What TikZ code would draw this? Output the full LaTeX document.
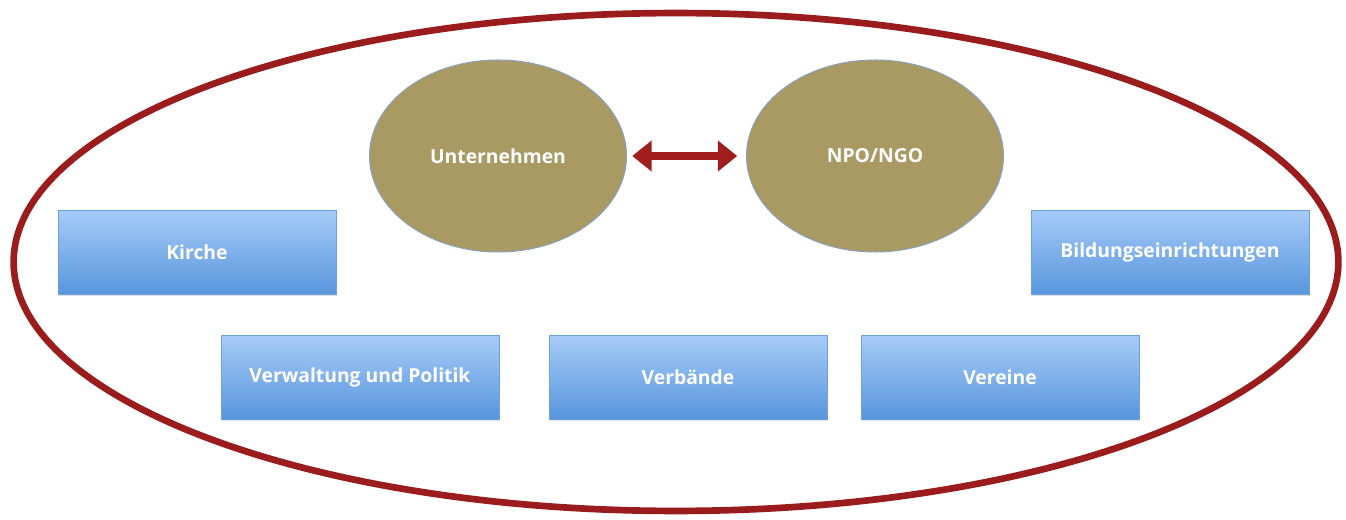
\documentclass[tikz,border=0pt]{standalone}
\usepackage{fontspec}
\setmainfont{Open Sans}
\usetikzlibrary{shapes.geometric,arrows.meta,shadows}

\definecolor{rimred}{RGB}{155,28,28}
\definecolor{arrowred}{RGB}{160,30,30}
\definecolor{olive}{RGB}{169,153,99}
\definecolor{oliverim}{RGB}{140,160,185}
\definecolor{boxtop}{RGB}{166,203,247}
\definecolor{boxbottom}{RGB}{88,150,222}
\definecolor{boxrim}{RGB}{110,160,220}

\begin{document}
\begin{tikzpicture}[x=0.02cm,y=-0.02cm,
  field/.style={ellipse,draw=rimred,line width=3.8pt,
    minimum width=26.5cm,minimum height=9.96cm,inner sep=0pt},
  actor/.style={ellipse,fill=olive,draw=oliverim,line width=0.6pt,
    minimum width=5.14cm,minimum height=3.84cm,text=white,
    font=\bfseries\fontsize{11}{13}\selectfont},
  group/.style={rectangle,top color=boxtop,bottom color=boxbottom,
    draw=boxrim,line width=0.3pt,minimum width=5.56cm,minimum height=1.68cm,
    text=white,font=\bfseries\fontsize{11}{13}\selectfont,
    drop shadow={shadow xshift=0.3pt,shadow yshift=-1pt,opacity=0.25}},
  link/.style={arrowred,line width=4.8pt,
    {Triangle[width=17pt,length=11pt]}-{Triangle[width=17pt,length=11pt]},
    shorten <=3pt,shorten >=5pt}]

  \useasboundingbox (0,0) rectangle (1346,520);

  % surrounding field

  \node [field] (env) at (676,262) {};

  % Unternehmen and NPO/NGO

  \node [actor] (unt) at (498,156) {Unternehmen};
  \node [actor] (npo) at (875,156) {NPO/NGO};

  \draw [link] (unt) -- (npo);

  % other groups

  \node [group] (kir) at (197,252) {Kirche};
  \node [group] (bil) at (1170,252) {Bildungseinrichtungen};
  \node [group] (ver) at (360,377) {Verwaltung und Politik};
  \node [group] (vbd) at (688,377) {Verbände};
  \node [group] (vrn) at (1000,377) {Vereine};
\end{tikzpicture}
\end{document}
